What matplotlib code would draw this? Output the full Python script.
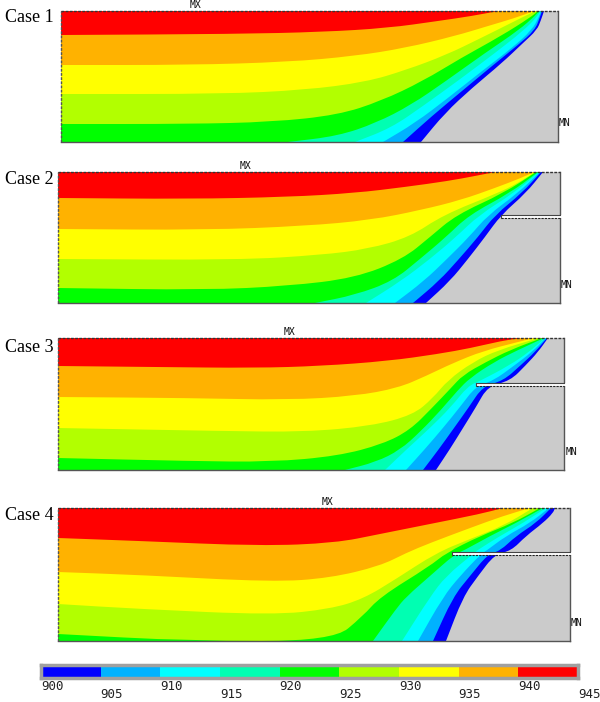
import numpy as np
import matplotlib.pyplot as plt
from matplotlib.patches import Rectangle, PathPatch
from matplotlib.path import Path

# contour levels (deg) and band colours
LEVELS = [900, 905, 910, 915, 920, 925, 930, 935, 940]
BAND_COLORS = ["#0000FF", "#00B2FF", "#00FFFF", "#00FFB2", "#00FF00",
               "#B2FF00", "#FFFF00", "#FFB200", "#FF0000"]
SOLID_COLOR = "#CBCBCB"
CASE_NAMES = ["Case 1", "Case 2", "Case 3", "Case 4"]

# domain size of each case (length, height) and slot (height, tip position)
DOMAIN = [(497, 131), (502, 131), (506, 132), (512, 133)]
SLOT = [None, (87, 443), (86, 418), (88, 394)]

# isotherm positions, one list per level (900 ... 940), x along length, y up from bottom
CASE1_X = [
    [360, 384, 411, 441, 462, 476, 480, 483],
    [342, 371, 401, 431, 457, 474, 479, 481],
    [322, 354, 387, 421, 451, 471, 478, 480],
    [294, 330, 362, 398, 434, 462, 476, 479],
    [227, 277, 315, 350, 385, 424, 458, 475, 478],
    [0, 127, 211, 277, 320, 362, 400, 440, 470, 477],
    [0, 161, 244, 305, 345, 385, 420, 450, 470, 476],
    [0, 127, 227, 294, 344, 394, 427, 454, 473],
    [0, 174, 261, 327, 377, 411, 437],
]
CASE1_Y = [
    [0, 29, 54, 79, 99, 112, 122, 131],
    [0, 26, 51, 76, 97, 112, 125, 131],
    [0, 19, 44, 71, 94, 112, 125, 131],
    [0, 14, 36, 62, 89, 111, 125, 131],
    [0, 6, 19, 37, 61, 89, 112, 127, 131],
    [18, 18, 20, 27, 41, 61, 84, 106, 125, 131],
    [48, 48, 52, 60, 72, 87, 104, 119, 129, 131],
    [77, 77, 80, 86, 94, 106, 116, 124, 131],
    [107, 108, 110, 114, 121, 126, 131],
]

CASE2_X = [
    [368, 392, 410, 427, 443, 468, 485],
    [355, 381, 401, 420, 437, 464, 483],
    [337, 366, 389, 411, 430, 460, 482],
    [308, 343, 372, 398, 421, 456, 481],
    [257, 297, 335, 362, 388, 411, 452, 480],
    [0, 147, 230, 297, 345, 372, 398, 446, 478],
    [0, 180, 263, 310, 352, 385, 440, 460, 477],
    [0, 147, 247, 313, 363, 403, 437, 463, 476],
    [0, 130, 230, 297, 347, 390, 417, 437],
]
CASE2_Y = [
    [0, 22, 44, 66, 88, 110, 131],
    [0, 22, 44, 66, 88, 110, 131],
    [0, 22, 44, 66, 88, 110, 131],
    [0, 22, 44, 66, 88, 110, 131],
    [0, 8, 22, 44, 66, 88, 110, 131],
    [15, 13, 17, 25, 44, 66, 88, 110, 131],
    [44, 43, 48, 54, 66, 88, 110, 120, 131],
    [74, 73, 77, 83, 93, 103, 115, 125, 131],
    [105, 104, 106, 110, 116, 122, 127, 131],
]

CASE3_X = [
    [378, 392, 405, 418, 430, 452, 468, 480, 490],
    [365, 381, 396, 411, 425, 445, 463, 477, 489],
    [348, 367, 385, 402, 418, 435, 457, 474, 488],
    [327, 349, 372, 393, 410, 422, 452, 471, 487],
    [287, 318, 342, 362, 383, 400, 412, 436, 460, 486],
    [0, 130, 213, 280, 325, 352, 374, 393, 405, 428, 452, 484],
    [0, 163, 247, 313, 355, 375, 390, 415, 440, 481],
    [0, 130, 230, 297, 340, 368, 395, 425, 460, 476],
    [0, 97, 197, 263, 330, 380, 413, 443, 463],
]
CASE3_Y = [
    [0, 21, 42, 63, 84, 89, 105, 118, 132],
    [0, 21, 42, 63, 84, 89, 105, 118, 132],
    [0, 21, 42, 63, 84, 89, 105, 118, 132],
    [0, 21, 42, 63, 84, 89, 105, 118, 132],
    [0, 8, 20, 38, 60, 80, 92, 108, 120, 132],
    [12, 9, 8, 14, 26, 40, 62, 82, 95, 108, 120, 132],
    [42, 39, 38, 44, 55, 72, 90, 108, 120, 132],
    [73, 72, 70, 74, 82, 94, 107, 119, 128, 132],
    [104, 103, 102, 104, 109, 116, 122, 129, 132],
]

CASE4_X = [
    [388, 405, 420, 437, 453, 468, 485, 495, 497],
    [375, 395, 412, 430, 442, 458, 478, 493],
    [360, 385, 402, 423, 428, 448, 472, 491],
    [344, 372, 388, 415, 418, 442, 465, 488],
    [315, 338, 348, 372, 397, 405, 432, 458, 485],
    [0, 132, 275, 305, 322, 372, 388, 422, 455, 482],
    [0, 82, 215, 272, 305, 338, 378, 412, 445, 475],
    [0, 82, 215, 272, 322, 348, 372, 412, 445, 472],
    [0, 82, 202, 277, 322, 372, 422, 445],
]
CASE4_Y = [
    [0, 44, 65, 87, 90, 105, 118, 128, 133],
    [0, 44, 65, 87, 90, 105, 118, 133],
    [0, 44, 65, 87, 90, 105, 118, 133],
    [0, 44, 65, 87, 90, 105, 118, 133],
    [0, 32, 44, 65, 87, 90, 105, 118, 133],
    [7, 0, 0, 25, 44, 75, 88, 105, 118, 133],
    [37, 32, 26, 32, 42, 62, 88, 102, 115, 133],
    [69, 66, 59, 63, 75, 88, 98, 113, 125, 133],
    [103, 100, 95, 98, 107, 117, 127, 133],
]

ISO_X = [CASE1_X, CASE2_X, CASE3_X, CASE4_X]
ISO_Y = [CASE1_Y, CASE2_Y, CASE3_Y, CASE4_Y]

FIG_W, FIG_H = 600, 702
# panel placement in pixels: left, top
PANEL_POS = [(61, 11), (58, 172), (58, 338), (58, 508)]
LABEL_Y = [17, 180, 347, 516]
MX_X = [195, 246, 290, 328]
MN_X = [559, 561, 566, 571]
MN_Y = [123, 285, 452, 623]


def px_axes(fig, left, top, w, h):
    return fig.add_axes([left / FIG_W, 1 - (top + h) / FIG_H, w / FIG_W, h / FIG_H])


def band_path(xs, ys, H):
    # isotherm drawn as a smooth quadratic curve through the read points,
    # closed over the hot (upper left) side of the panel
    pts = list(zip(xs, ys))
    verts, codes = [], []
    if pts[0][0] > 0:
        verts.append((0, 0))
        codes.append(Path.MOVETO)
        verts.append(pts[0])
        codes.append(Path.LINETO)
    else:
        verts.append(pts[0])
        codes.append(Path.MOVETO)
    if len(pts) > 2:
        m = ((pts[0][0] + pts[1][0]) / 2, (pts[0][1] + pts[1][1]) / 2)
        verts.append(m)
        codes.append(Path.LINETO)
        for k in range(1, len(pts) - 1):
            nxt = ((pts[k][0] + pts[k + 1][0]) / 2, (pts[k][1] + pts[k + 1][1]) / 2)
            verts += [pts[k], nxt]
            codes += [Path.CURVE3, Path.CURVE3]
    verts.append(pts[-1])
    codes.append(Path.LINETO)
    verts.append((0, H))
    codes.append(Path.LINETO)
    verts.append(verts[0])
    codes.append(Path.CLOSEPOLY)
    return Path(verts, codes)


def draw_case(fig, i):
    W, H = DOMAIN[i]
    left, top = PANEL_POS[i]
    ax = px_axes(fig, left, top, W, H)
    ax.set_xlim(0, W)
    ax.set_ylim(0, H)
    ax.set_xticks([])
    ax.set_yticks([])
    ax.set_facecolor(SOLID_COLOR)

    for k, level in enumerate(LEVELS):
        path = band_path(ISO_X[i][k], ISO_Y[i][k], H)
        ax.add_patch(PathPatch(path, facecolor=BAND_COLORS[k], lw=0, zorder=1))

    for side in ["bottom", "right"]:
        ax.spines[side].set_color("#555555")
        ax.spines[side].set_linewidth(1.0)
    for side in ["top", "left"]:
        ax.spines[side].set_visible(False)
    ax.plot([0, W], [H, H], color="#333333", lw=1.0, ls=(0, (2, 1)),
            clip_on=False, zorder=4)
    ax.plot([0, 0], [0, H], color="#555555", lw=1.0, ls=(0, (2, 1)),
            clip_on=False, zorder=4)

    if SLOT[i] is not None:
        sy, sx = SLOT[i]
        ax.add_patch(Rectangle((sx, sy - 1.5), W - sx + 3, 3, facecolor="white",
                               edgecolor="none", clip_on=False, zorder=5))
        ax.plot([sx, W], [sy + 1.5, sy + 1.5], color="#444444", lw=0.8,
                clip_on=False, zorder=6)
        ax.plot([sx, W], [sy - 1.5, sy - 1.5], color="#222222", lw=0.8,
                ls=(0, (2, 1)), clip_on=False, zorder=6)
        ax.plot([sx, sx], [sy - 1.5, sy + 1.5], color="#444444", lw=0.8,
                clip_on=False, zorder=6)

    fig.text(5 / FIG_W, 1 - LABEL_Y[i] / FIG_H, CASE_NAMES[i], fontsize=13,
             family="Liberation Serif", va="center", ha="left")
    fig.text(MX_X[i] / FIG_W, 1 - (top - 6) / FIG_H, "MX", fontsize=7,
             family="DejaVu Sans Mono", va="center", ha="center", color="#111111")
    fig.text(MN_X[i] / FIG_W, 1 - MN_Y[i] / FIG_H, "MN", fontsize=7,
             family="DejaVu Sans Mono", va="center", ha="left", color="#111111")


def draw_colorbar(fig):
    left, top, w, h = 41, 665, 537, 13
    ax = px_axes(fig, left, top, w, h)
    ax.bar(LEVELS, [1] * len(LEVELS), width=5, align="edge", color=BAND_COLORS,
           linewidth=0)
    ax.set_xlim(900, 945)
    ax.set_ylim(0, 1)
    ax.set_xticks([])
    ax.set_yticks([])
    for sp in ax.spines.values():
        sp.set_color("#A0A0A0")
        sp.set_linewidth(2.5)
    ticks = LEVELS + [945]
    for n, t in enumerate(ticks):
        py = 687 if n % 2 == 0 else 695
        ax.text(t, (top + h - py) / h, str(t), transform=ax.get_xaxis_transform(),
                ha="left", va="center", fontsize=9, family="DejaVu Sans Mono",
                color="#222222", clip_on=False)


fig = plt.figure(figsize=(FIG_W / 100, FIG_H / 100), dpi=100)
for i in range(4):
    draw_case(fig, i)
draw_colorbar(fig)

fig.savefig("out.png", dpi=100)
